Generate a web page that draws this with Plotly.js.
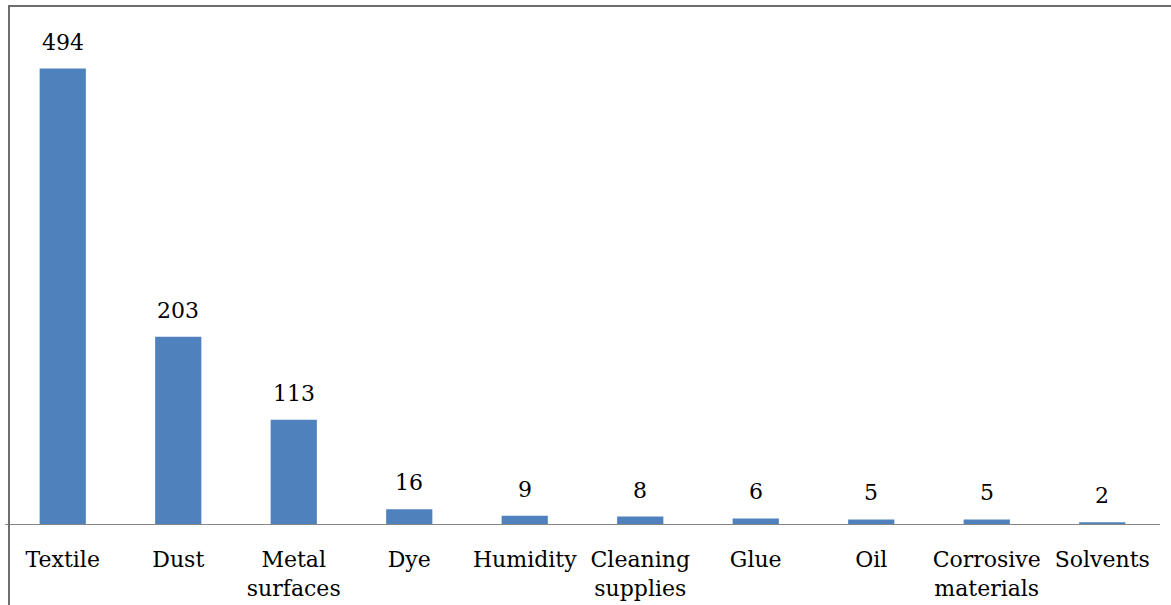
<!DOCTYPE html>
<html>
<head>
<meta charset="utf-8">
<script src="https://cdn.plot.ly/plotly-3.0.1.min.js"></script>
<style>
  html, body { margin: 0; padding: 0; background: #ffffff; }
  #wrap { position: relative; width: 1171px; height: 605px; overflow: hidden; }
  #chart { width: 1171px; height: 605px; }
  #frame { position: absolute; left: 8px; top: 5px; width: 1300px; height: 800px;
           border-left: 2px solid #6d6d6d; border-top: 2px solid #6d6d6d;
           pointer-events: none; z-index: 10; }
</style>
</head>
<body>
<div id="wrap">
  <div id="chart"></div>
  <div id="frame"></div>
</div>
<script>
const categories = ["Textile", "Dust", "Metal<br>surfaces", "Dye", "Humidity", "Cleaning<br>supplies", "Glue", "Oil", "Corrosive<br>materials", "Solvents"];
const values = [494, 203, 113, 16, 9, 8, 6, 5, 5, 2];

const fontFamily = "'DejaVu Serif', 'Liberation Serif', serif";

const trace = {
  type: "bar",
  x: categories,
  y: values,
  marker: { color: "#4f81bd" },
  hoverinfo: "x+y"
};

const annotations = categories.map((c, i) => ({
  x: c,
  y: values[i],
  xref: "x",
  yref: "y",
  text: String(values[i]),
  showarrow: false,
  yanchor: "bottom",
  yshift: 12,
  font: { family: fontFamily, size: 22, color: "#000000" }
}));

const layout = {
  width: 1171,
  height: 605,
  margin: { l: 5, r: 11, t: 63.4, b: 81 },
  paper_bgcolor: "#ffffff",
  plot_bgcolor: "#ffffff",
  bargap: 0.6,
  showlegend: false,
  font: { family: fontFamily, size: 22, color: "#000000" },
  xaxis: {
    type: "category",
    showline: true,
    linecolor: "#868686",
    linewidth: 1,
    ticks: "",
    ticklabelstandoff: 16,
    tickfont: { family: fontFamily, size: 22, color: "#000000" },
    showgrid: false,
    zeroline: false
  },
  yaxis: {
    range: [0, 500],
    visible: false,
    showgrid: false,
    zeroline: false
  },
  annotations: annotations
};

Plotly.newPlot("chart", [trace], layout, { displayModeBar: false, staticPlot: true });
</script>
</body>
</html>
